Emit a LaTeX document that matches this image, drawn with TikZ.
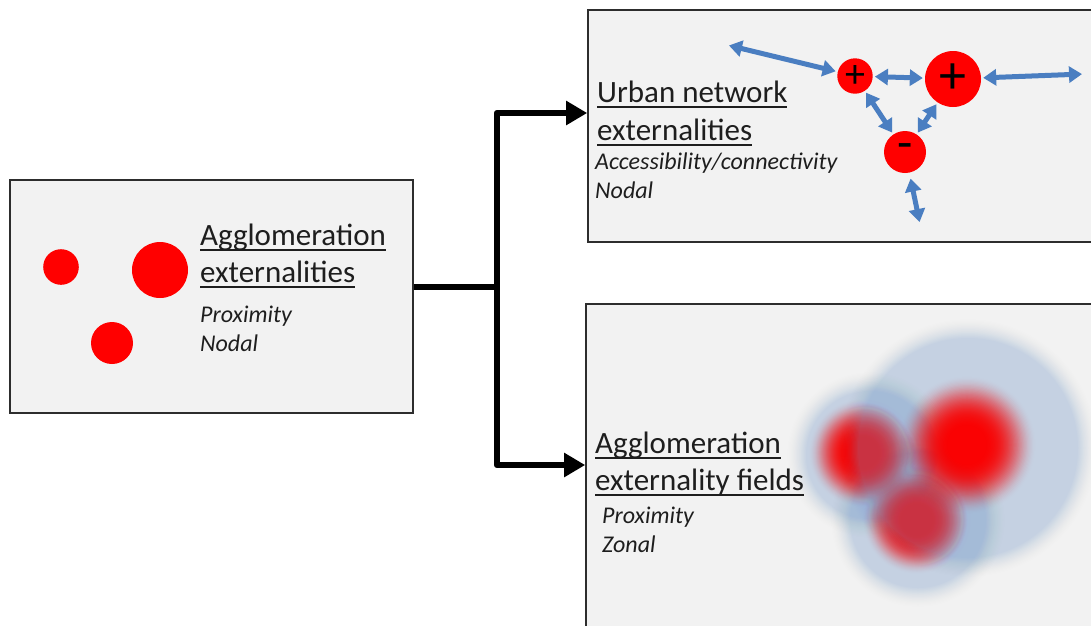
\documentclass[tikz,border=0pt]{standalone}
\usepackage{fontspec}
\setmainfont{Carlito}
\usetikzlibrary{arrows.meta}
\definecolor{boxfill}{RGB}{242,242,242}
\definecolor{boxline}{RGB}{45,45,45}
\definecolor{netblue}{RGB}{74,126,193}
\definecolor{haloblue}{RGB}{120,165,215}
\definecolor{txt}{RGB}{30,30,30}
\newcommand\myul[1]{\setbox0\hbox{#1}\rlap{\rule[-0.2em]{\wd0}{0.065em}}\box0}
\newcommand\halo[3]{\foreach \k in {1,...,16}{\pgfmathsetmacro\op{0.0029*\k}\fill[haloblue, fill opacity=\op] (#1,#2) circle[radius={(#3-1.25*\k)*1pt}];}}
\newcommand\blob[3]{\foreach \k in {1,...,40}{\pgfmathsetmacro\op{0.0042*\k}\fill[red, fill opacity=\op] (#1,#2) circle[radius={#3*(1-0.018*\k)*1pt}];}}
\begin{document}
\begin{tikzpicture}[x=1pt,y=-1pt,
  box/.style={draw=boxline, line width=1.6pt, fill=boxfill, inner sep=0pt, rectangle},
  dot/.style={circle, fill=red, inner sep=0pt, draw=none, text=black},
  title/.style={anchor=base west, inner sep=0pt, text=txt, font=\fontsize{31}{37}\selectfont},
  sub/.style={anchor=base west, inner sep=0pt, text=txt, font=\fontsize{24}{29}\selectfont\itshape},
  conn/.style={line width=6.5pt, black, line join=round},
  connarrow/.style={conn, -{Triangle[length=21pt,width=23pt]}},
  net/.style={netblue, line width=5pt, {Triangle[length=13pt,width=16pt]}-{Triangle[length=13pt,width=16pt]}, shorten <=2pt, shorten >=2pt},
]
\useasboundingbox (0,0) rectangle (1091,625);
\clip (0,0) rectangle (1091,625);
\fill[white] (0,0) rectangle (1091,625);

% boxes
\node[box, minimum width=403pt, minimum height=233pt] (lbox) at (211.5,296.5) {};
\node[box, minimum width=512pt, minimum height=232pt] (tbox) at (844,126) {};
\node[box, minimum width=514pt, minimum height=346pt] (bbox) at (843,477) {};

% connectors
\coordinate (jn) at (497,287);
\coordinate (ty) at (0,113);
\coordinate (by) at (0,465);
\draw[conn] (lbox.east |- jn) -- (jn);
\draw[connarrow] (jn) |- (tbox.west |- ty);
\draw[connarrow] (jn) |- (bbox.west |- by);

% left box
\node[dot, minimum size=35.6pt] (c1) at (61,267) {};
\node[dot, minimum size=56pt] (c2) at (160,270) {};
\node[dot, minimum size=42pt] (c3) at (112,343) {};
\node[title] (l1) at (200,245) {\myul{Agglomeration}};
\node[title] (l2) at (200,282) {\myul{externalities}};
\node[sub] (l3) at (200,322) {Proximity};
\node[sub] (l4) at (200,351) {Nodal};

% top box
\node[title] (t1) at (597,102) {\myul{Urban network}};
\node[title] (t2) at (597,140) {\myul{externalities}};
\node[sub] (t3) at (595,169) {Accessibility/connectivity};
\node[sub] (t4) at (595,198) {Nodal};
\node[dot, minimum size=35.4pt, font=\fontsize{40}{40}\selectfont] (p1) at (855,76) {+};
\node[dot, minimum size=56pt, font=\fontsize{54}{54}\selectfont] (p2) at (953,79) {+};
\node[dot, minimum size=42pt, font=\fontsize{50}{50}\selectfont] (m1) at (905,152) {-};
\coordinate (a1) at (727,45);
\coordinate (a2) at (1084,74);
\coordinate (a3) at (920,224);
\draw[net] (a1) -- (p1);
\draw[net] (p1) -- (p2);
\draw[net] (p2) -- (a2);
\draw[net] (p1) -- (m1);
\draw[net] (p2) -- (m1);
\draw[net, shorten <=6pt] (m1) -- (a3);

% bottom box fields
\halo{870}{455}{84}
\halo{918}{520}{88}
\blob{863}{453}{55}
\blob{917}{520}{55}
\halo{968}{448}{130}
\blob{967}{445}{70}
\node[title] (b1) at (595,453) {\myul{Agglomeration}};
\node[title] (b2) at (595,490) {\myul{externality fields}};
\node[sub] (b3) at (602,523) {Proximity};
\node[sub] (b4) at (602,552) {Zonal};
\end{tikzpicture}
\end{document}
